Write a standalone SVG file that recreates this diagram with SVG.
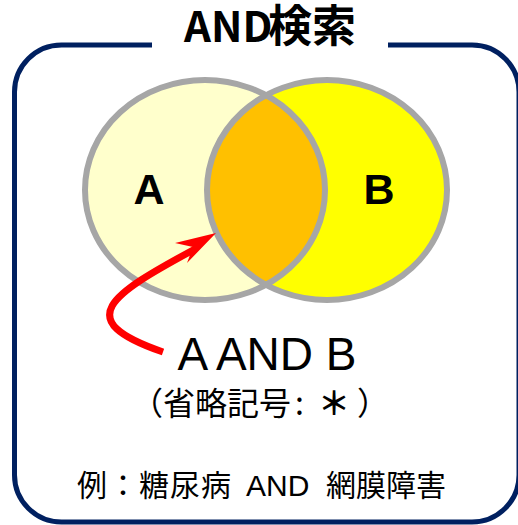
<svg xmlns="http://www.w3.org/2000/svg" width="518" height="525" viewBox="0 0 518 525">
<style>
.frame{fill:none;stroke:#002060;stroke-width:5}
.set{stroke:none}
.outline{fill:none;stroke:#A6A6A6;stroke-width:6}
.title{font-family:"Noto Sans CJK JP","Liberation Sans",sans-serif;font-weight:bold;fill:#000}
.lbl{font-family:"Liberation Sans","Noto Sans CJK JP",sans-serif;font-weight:bold;font-size:43px;fill:#000;text-anchor:middle}
.main{font-family:"Liberation Sans","Noto Sans CJK JP",sans-serif;font-size:46px;fill:#000;text-anchor:middle}
.jp{font-family:"Noto Sans CJK JP","Liberation Sans",sans-serif;fill:#000}
.lat{font-family:"Liberation Sans","Noto Sans CJK JP",sans-serif}
.arrow{fill:none;stroke:#FF0000;stroke-width:7}
</style>
<defs>
<clipPath id="clipA"><ellipse cx="205" cy="190" rx="120" ry="110"/></clipPath>
</defs>
<g id="frame">
<path class="frame" d="M152,45 H61.5 A47,47 0 0 0 14.5,92 V475 A47,47 0 0 0 61.5,522 H472 A47,47 0 0 0 519,475 V92 A47,47 0 0 0 472,45 H388"/>
</g>
<g id="title">
<text class="title" y="42"><tspan x="184" font-size="42">AND</tspan><tspan x="268" font-size="44">検索</tspan></text>
</g>
<g id="venn">
<g id="set-a"><ellipse class="set" cx="205" cy="190" rx="120" ry="110" fill="#FFFFCC"/></g>
<g id="set-b"><ellipse class="set" cx="327" cy="190" rx="120" ry="110" fill="#FFFF00"/></g>
<g id="intersection"><ellipse class="set" cx="327" cy="190" rx="120" ry="110" fill="#FFC000" clip-path="url(#clipA)"/></g>
<ellipse class="outline" cx="205" cy="190" rx="120" ry="110"/>
<ellipse class="outline" cx="327" cy="190" rx="120" ry="110"/>
<text class="lbl" x="149" y="204">A</text>
<text class="lbl" x="379" y="204">B</text>
</g>
<g id="connectors">
<path class="arrow" d="M163,352 C70,320 110,295 195,249"/>
<path d="M216,233 L175,243 L193,247 L187,263 Z" fill="#FF0000"/>
</g>
<g id="result">
<text class="main" x="267" y="370">A AND B</text>
<text class="jp" y="415" font-size="32"><tspan x="131">（</tspan><tspan x="163">省略記号</tspan><tspan x="295">:</tspan><tspan x="318" font-weight="bold">＊</tspan><tspan x="357">）</tspan></text>
</g>
<g id="example">
<text class="jp" y="496" font-size="30"><tspan x="77" letter-spacing="1">例：糖尿病</tspan><tspan class="lat" x="246">AND</tspan><tspan x="326">網膜障害</tspan></text>
</g>
</svg>
